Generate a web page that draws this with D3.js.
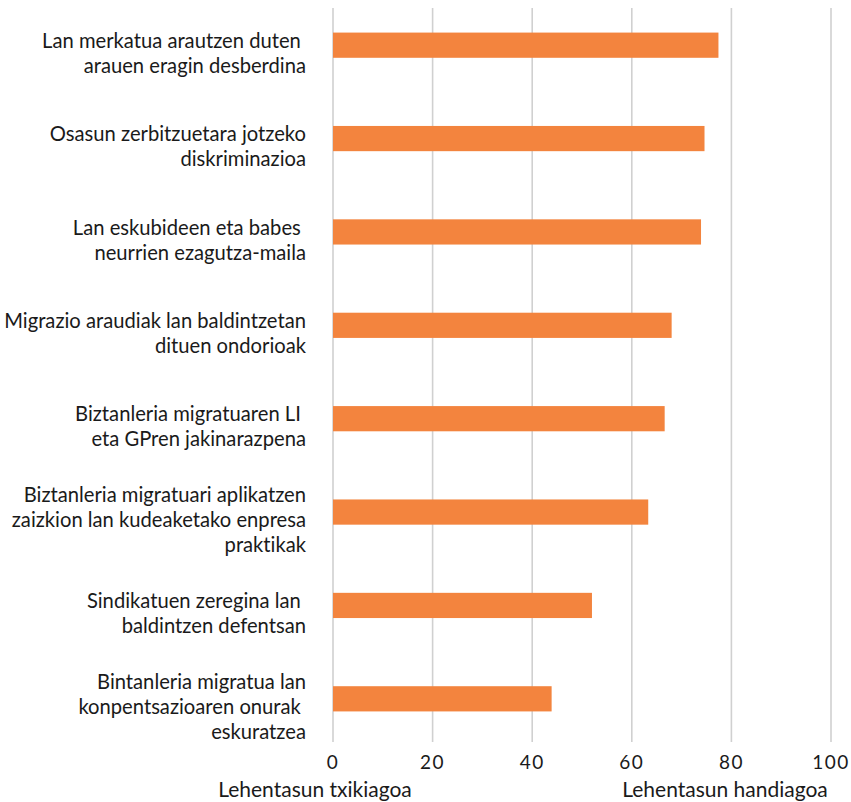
<!DOCTYPE html>
<html>
<head>
<meta charset="utf-8">
<script src="https://cdn.jsdelivr.net/npm/d3@7"></script>
<style>
  html, body { margin: 0; padding: 0; background: #fff; }
  svg { display: block; font-family: Lato, "Open Sans", sans-serif; font-variant-ligatures: none; }
  text { white-space: pre; }
</style>
</head>
<body>
<svg id="chart" width="851" height="802"></svg>
<script>
const categories = [
  ["Lan merkatua arautzen duten ", "arauen eragin desberdina"],
  ["Osasun zerbitzuetara jotzeko", "diskriminazioa"],
  ["Lan eskubideen eta babes ", "neurrien ezagutza-maila"],
  ["Migrazio araudiak lan baldintzetan", "dituen ondorioak"],
  ["Biztanleria migratuaren LI ", "eta GPren jakinarazpena"],
  ["Biztanleria migratuari aplikatzen", "zaizkion lan kudeaketako enpresa", "praktikak"],
  ["Sindikatuen zeregina lan ", "baldintzen defentsan"],
  ["Bintanleria migratua lan", "konpentsazioaren onurak ", "eskuratzea"]
];
const values = [77.4, 74.6, 73.9, 68.0, 66.6, 63.3, 52.0, 43.9];
const xTicks = [0, 20, 40, 60, 80, 100];
const axisTitles = ["Lehentasun txikiagoa", "Lehentasun handiagoa"];

const svg = d3.select("#chart");
const x = d3.scaleLinear().domain([0, 100]).range([333, 831]);
const y = d3.scaleBand().domain(d3.range(categories.length))
  .range([-1.5, 745.5]).paddingInner(0.73).paddingOuter(0.365);

// gridlines
svg.append("g").selectAll("line").data(xTicks).join("line")
  .attr("x1", d => x(d)).attr("x2", d => x(d))
  .attr("y1", 8).attr("y2", 742)
  .attr("stroke", "#d0d0d0").attr("stroke-width", 1.6);

// bars
svg.append("g").selectAll("rect").data(values).join("rect")
  .attr("x", x(0))
  .attr("y", (d, i) => y(i))
  .attr("width", d => x(d) - x(0))
  .attr("height", y.bandwidth())
  .attr("fill", "#f3843e");

// category labels
const lh = 25;
const lab = svg.append("g").attr("font-size", 20.2).attr("fill", "#1a1a1a").attr("text-anchor", "end");
categories.forEach((lines, i) => {
  const c = y(i) + y.bandwidth() / 2 + 8;
  const n = lines.length;
  lines.forEach((t, j) => {
    lab.append("text")
      .attr("x", 306)
      .attr("y", c + (j - (n - 1) / 2) * lh)
      .attr("dy", "0.35em")
      .text(t);
  });
});

// tick labels
svg.append("g").attr("font-size", 19).attr("fill", "#1a1a1a").attr("text-anchor", "middle")
  .selectAll("text").data(xTicks).join("text")
  .attr("x", d => x(d)).attr("y", 762).attr("dy", "0.35em")
  .attr("letter-spacing", 1.5)
  .text(d => d);

// axis titles
svg.append("g").attr("font-size", 21).attr("fill", "#1a1a1a").attr("text-anchor", "middle")
  .selectAll("text").data(axisTitles).join("text")
  .attr("x", (d, i) => i === 0 ? 315 : 725)
  .attr("y", 790).attr("dy", "0.35em")
  .text(d => d);
</script>
</body>
</html>
